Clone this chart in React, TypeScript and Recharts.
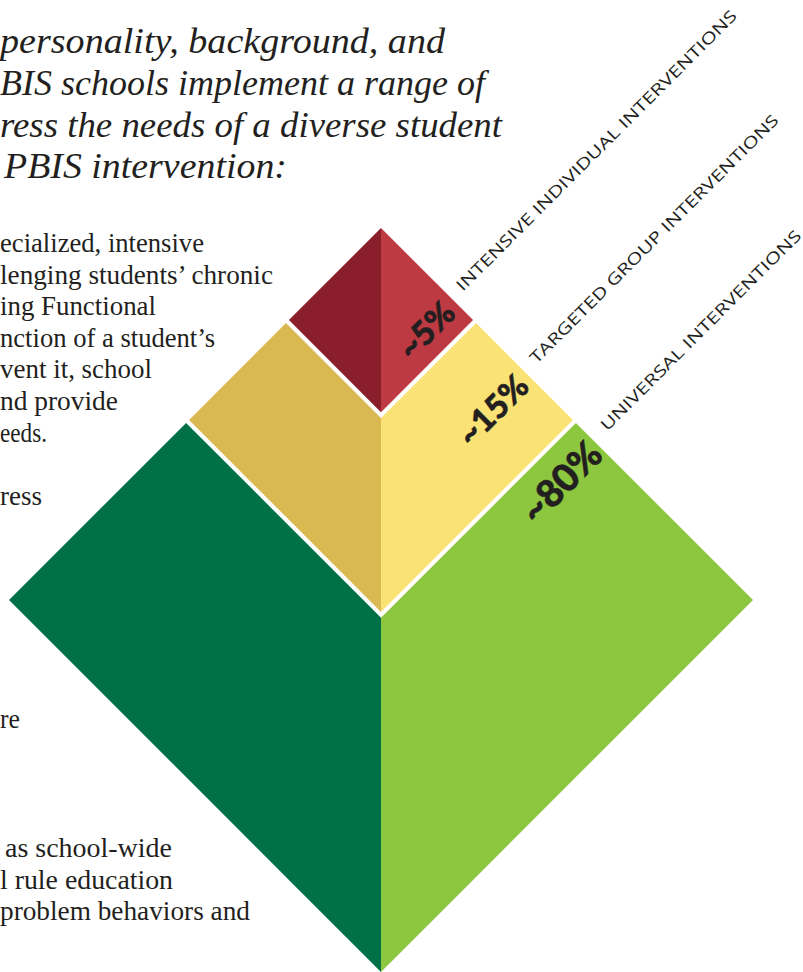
import React from 'react';
import { ComposedChart, Area, Scatter, XAxis, YAxis } from 'recharts';

// ---- data ----
const tierNames = ['INTENSIVE INDIVIDUAL INTERVENTIONS', 'TARGETED GROUP INTERVENTIONS', 'UNIVERSAL INTERVENTIONS'];
const tierShares = ['~5%', '~15%', '~80%'];
// lower vertex of each tier on the diamond's vertical axis (outer diamond half-diagonal = 100)
const tierFloor = [50.5, -3.2, -100];
// upper vertex (cut line) of each tier on the vertical axis
const tierCeil = [100, 48.9, -4.8];

const titleLines = [
  'personality, background, and',
  'BIS schools implement a range of',
  'ress the needs of a diverse student',
  'PBIS intervention:',
];
const bodyLines = [
  'ecialized, intensive',
  'lenging students\u2019 chronic',
  'ing Functional',
  'nction of a student\u2019s',
  'vent it, school',
  'nd provide',
  'eeds.',
  'ress',
  're',
  'as school-wide',
  'l rule education',
  'problem behaviors and',
];

// ---- layout / style ----
const W = 803;
const H = 972;
const HALF = 100;
const X_DOMAIN: [number, number] = [-102.42, 113.44];
const Y_DOMAIN: [number, number] = [-100, 161.29];
const darkColors = ['#8a1f2b', '#dbb952', '#007046'];
const lightColors = ['#bd3a42', '#fae274', '#8dc63f'];
const shareAnchor = [
  { x: 11.9, y: 72.8, size: 33 },
  { x: 29.8, y: 51.3, size: 33 },
  { x: 48.1, y: 32.0, size: 38 },
];
const nameAnchor = [
  { x: 22.0, y: 82.8, len: 389 },
  { x: 41.8, y: 63.3, len: 344 },
  { x: 60.8, y: 45.2, len: 276 },
];
const titleLayout = [
  { x: 0, y: 53, len: 445 },
  { x: 0, y: 95, len: 485 },
  { x: 0, y: 137, len: 502 },
  { x: 4, y: 178, len: 283 },
];
const bodyLayout = [
  { x: 0, y: 252, len: 204 },
  { x: 0, y: 284, len: 273 },
  { x: 0, y: 315, len: 156 },
  { x: 0, y: 347, len: 215 },
  { x: 0, y: 378, len: 152 },
  { x: 0, y: 410, len: 118 },
  { x: 0, y: 442, len: 47 },
  { x: 0, y: 505, len: 42 },
  { x: 0, y: 728, len: 20 },
  { x: 5, y: 857, len: 167 },
  { x: 0, y: 889, len: 173 },
  { x: 0, y: 920, len: 250 },
];

// ---- geometry derived from tier cuts ----
const extents = tierFloor.map((f) => (HALF - f) / 2);
const kinks = tierCeil.map((c) => (HALF - c) / 2);
const absXs = Array.from(new Set([0, ...extents, ...kinks])).sort((a, b) => a - b);
const xs = Array.from(new Set([...absXs.map((v) => -v), ...absXs])).sort((a, b) => a - b);
const areaData = xs.map((x) => {
  const row: any = { x };
  const ax = Math.abs(x);
  tierFloor.forEach((f, i) => {
    const inside = ax <= extents[i] + 1e-9;
    const val = inside ? [f + ax, Math.min(HALF - ax, tierCeil[i] + ax)] : null;
    row[`L${i}`] = x <= 0 ? val : null;
    row[`R${i}`] = x >= 0 ? val : null;
  });
  return row;
});

const shareData = tierShares.map((t, i) => ({ x: shareAnchor[i].x, y: shareAnchor[i].y, text: t, size: shareAnchor[i].size }));
const nameData = tierNames.map((t, i) => ({ x: nameAnchor[i].x, y: nameAnchor[i].y, text: t, len: nameAnchor[i].len }));

const ShareLabel = (props: any) => {
  const { cx, cy, payload } = props;
  return (
    <text
      x={cx}
      y={cy}
      transform={`rotate(-45 ${cx} ${cy})`}
      textAnchor="middle"
      dominantBaseline="central"
      fontFamily="Lato, 'Open Sans', sans-serif"
      fontWeight={900}
      fontSize={payload.size}
      fill="#231f20"
      stroke="#231f20"
      strokeWidth={0.6}
    >
      {payload.text}
    </text>
  );
};

const NameLabel = (props: any) => {
  const { cx, cy, payload } = props;
  return (
    <text
      x={cx}
      y={cy}
      transform={`rotate(-45 ${cx} ${cy})`}
      textAnchor="start"
      fontFamily="'Open Sans', Lato, sans-serif"
      fontWeight={400}
      fontSize={16}
      textLength={payload.len}
      lengthAdjust="spacingAndGlyphs"
      fill="#231f20"
    >
      {payload.text}
    </text>
  );
};

export default function App() {
  return (
    <div style={{ position: 'absolute', left: 0, top: 0, width: W, height: H, overflow: 'hidden', background: '#fff' }}>
      <svg width={W} height={H} style={{ position: 'absolute', left: 0, top: 0 }}>
        {titleLines.map((t, i) => (
          <text
            key={`t${i}`}
            x={titleLayout[i].x}
            y={titleLayout[i].y}
            textLength={titleLayout[i].len}
            lengthAdjust="spacingAndGlyphs"
            fontFamily="'Liberation Serif', serif"
            fontStyle="italic"
            fontSize={35}
            fill="#231f20"
          >
            {t}
          </text>
        ))}
        {bodyLines.map((t, i) => (
          <text
            key={`b${i}`}
            x={bodyLayout[i].x}
            y={bodyLayout[i].y}
            textLength={bodyLayout[i].len}
            lengthAdjust="spacingAndGlyphs"
            fontFamily="'Liberation Serif', serif"
            fontSize={27}
            fill="#231f20"
          >
            {t}
          </text>
        ))}
      </svg>
      <div style={{ position: 'absolute', left: 0, top: 0 }}>
        <ComposedChart width={W} height={H} data={areaData} margin={{ top: 0, right: 0, bottom: 0, left: 0 }}>
          <XAxis type="number" dataKey="x" domain={X_DOMAIN} allowDataOverflow hide />
          <YAxis type="number" dataKey="y" domain={Y_DOMAIN} allowDataOverflow hide />
          {tierFloor.map((_, i) => (
            <Area
              key={`L${i}`}
              type="linear"
              dataKey={`L${i}`}
              fill={darkColors[i]}
              fillOpacity={1}
              stroke="none"
              dot={false}
              activeDot={false}
              isAnimationActive={false}
            />
          ))}
          {tierFloor.map((_, i) => (
            <Area
              key={`R${i}`}
              type="linear"
              dataKey={`R${i}`}
              fill={lightColors[i]}
              fillOpacity={1}
              stroke="none"
              dot={false}
              activeDot={false}
              isAnimationActive={false}
            />
          ))}
          <Scatter data={shareData} shape={ShareLabel} isAnimationActive={false} />
          <Scatter data={nameData} shape={NameLabel} isAnimationActive={false} />
        </ComposedChart>
      </div>
    </div>
  );
}
